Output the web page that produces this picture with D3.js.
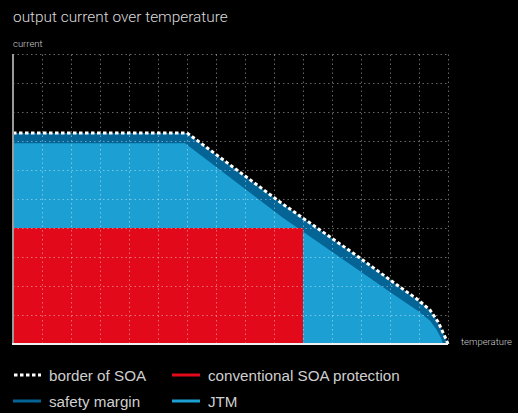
<!DOCTYPE html>
<html>
<head>
<meta charset="utf-8">
<script src="https://cdn.jsdelivr.net/npm/d3@7"></script>
<style>
  html, body { margin: 0; padding: 0; background: #000; }
  svg { display: block; }
</style>
</head>
<body>
<div id="chart"></div>
<script>
// values (x: temperature units, y: current units)
const xTicks = d3.range(0, 16);
const yTicks = d3.range(0, 11);

const soaX = [0, 6, 9.27, 11.72, 13.1, 13.97, 14.38, 14.66, 14.9, 15];
const soaY = [7.28, 7.28, 4.85, 3.14, 2.14, 1.52, 1.17, 0.76, 0.24, 0];

const jtmX = [0, 5.93, 9.27, 11.72, 13.1, 13.97, 14.38, 14.6, 14.75, 14.83];
const jtmY = [6.92, 6.92, 4.38, 2.68, 1.72, 1.14, 0.8, 0.5, 0.22, 0];

const convX = [0, 10];
const convY = [4, 4];

const legendItems = [
    {label: 'border of SOA', key: 'soa'},
    {label: 'conventional SOA protection', key: 'conv'},
    {label: 'safety margin', key: 'margin'},
    {label: 'JTM', key: 'jtm'}
];

const colors = {soa: '#ffffff', conv: '#e20a1a', margin: '#046496', jtm: '#1ca0d4'};

const W = 518, H = 413;
const margin = {top: 54, right: 70, bottom: 69, left: 13};

const svg = d3.select('#chart').append('svg')
    .attr('width', W)
    .attr('height', H)
    .style('font-family', 'Roboto, "Liberation Sans", sans-serif');

svg.append('rect').attr('width', W).attr('height', H).attr('fill', '#000');

const xScale = d3.scaleLinear().domain([0, 15]).range([margin.left, 448]);
const yScale = d3.scaleLinear().domain([0, 10]).range([H - margin.bottom, margin.top]);

const soa = soaX.map((x, i) => [x, soaY[i]]);
const jtm = jtmX.map((x, i) => [x, jtmY[i]]);
const conv = convX.map((x, i) => [x, convY[i]]);

const area = d3.area()
    .x(d => xScale(d[0]))
    .y0(yScale(0))
    .y1(d => yScale(d[1]));

const line = d3.line()
    .x(d => xScale(d[0]))
    .y(d => yScale(d[1]));

// title
svg.append('text')
    .attr('x', 13).attr('y', 22)
    .attr('fill', '#dcdcdc')
    .attr('font-size', 15.4)
    .attr('font-weight', 300)
    .text('output current over temperature');

svg.append('text')
    .attr('x', 13).attr('y', 47)
    .attr('fill', '#cfcfcf')
    .attr('font-size', 9.5)
    .attr('font-weight', 300)
    .text('current');

svg.append('text')
    .attr('x', 461).attr('y', 345)
    .attr('fill', '#cfcfcf')
    .attr('font-size', 9.5)
    .attr('font-weight', 300)
    .text('temperature');

const g = svg.append('g');

// areas: safety margin under the SOA border, JTM, conventional protection
g.append('path').datum(soa).attr('d', area).attr('fill', colors.margin);
g.append('path').datum(jtm).attr('d', area).attr('fill', colors.jtm);
g.append('path').datum(conv).attr('d', area).attr('fill', colors.conv);

// dotted grid on top of the fills
g.append('g')
    .attr('transform', 'translate(0,' + yScale(0) + ')')
    .call(d3.axisBottom(xScale).tickValues(xTicks.slice(1))
        .tickSize(-(yScale(0) - yScale(10))).tickFormat(''))
    .call(a => a.select('.domain').remove())
    .selectAll('line')
    .attr('stroke', 'rgba(255,255,255,0.4)')
    .attr('stroke-width', 1)
    .attr('stroke-dasharray', '1.5,3');

g.append('g')
    .attr('transform', 'translate(' + xScale(0) + ',0)')
    .call(d3.axisLeft(yScale).tickValues(yTicks.slice(1))
        .tickSize(-(xScale(15) - xScale(0))).tickFormat(''))
    .call(a => a.select('.domain').remove())
    .selectAll('line')
    .attr('stroke', 'rgba(255,255,255,0.4)')
    .attr('stroke-width', 1)
    .attr('stroke-dasharray', '1.5,3');

// border of SOA
g.append('path').datum(soa)
    .attr('d', line)
    .attr('fill', 'none')
    .attr('stroke', colors.soa)
    .attr('stroke-width', 3)
    .attr('stroke-dasharray', '3.5,2.5');

// axes lines
g.append('line')
    .attr('x1', xScale(0)).attr('x2', xScale(0))
    .attr('y1', yScale(10)).attr('y2', yScale(0))
    .attr('stroke', '#9a9a9a').attr('stroke-width', 2);

g.append('line')
    .attr('x1', xScale(0) - 1).attr('x2', xScale(15))
    .attr('y1', yScale(0)).attr('y2', yScale(0))
    .attr('stroke', '#f0f0f0').attr('stroke-width', 2);

// legend
const legend = svg.append('g').attr('transform', 'translate(13,375)');
const item = legend.selectAll('g').data(legendItems).enter().append('g')
    .attr('transform', (d, i) => 'translate(' + (i % 2) * 159 + ',' + Math.floor(i / 2) * 26 + ')');

item.append('line')
    .attr('x1', d => d.key === 'soa' ? 1 : 0)
    .attr('x2', 28)
    .attr('stroke', d => colors[d.key])
    .attr('stroke-width', 3)
    .attr('stroke-dasharray', d => d.key === 'soa' ? '3.5,2.5' : null);

item.append('text')
    .attr('x', 36).attr('y', 5.5)
    .attr('fill', '#cfcfcf')
    .attr('font-size', 15.2)
    .style('font-family', '"Liberation Sans", Arial, sans-serif')
    .text(d => d.label);
</script>
</body>
</html>
